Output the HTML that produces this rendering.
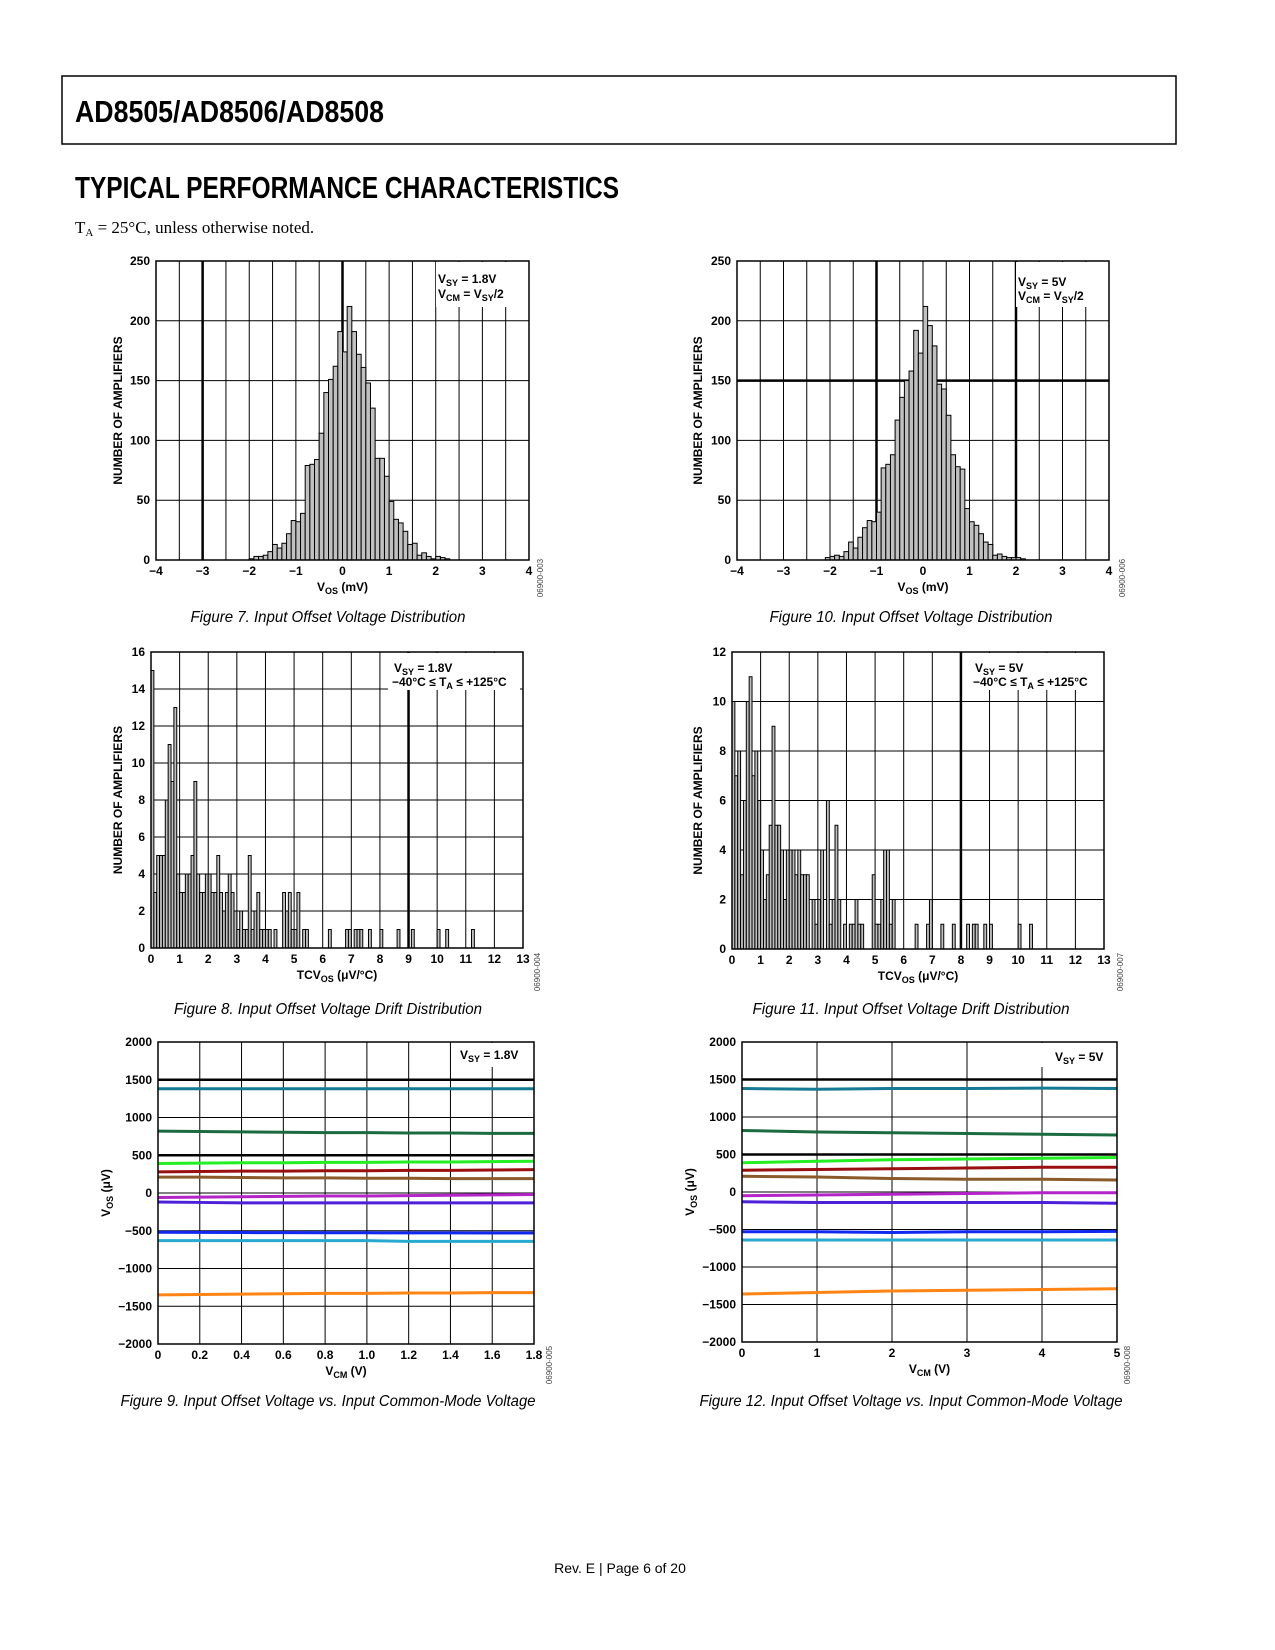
<!DOCTYPE html>
<html><head><meta charset="utf-8"><title>AD8505/AD8506/AD8508 Typical Performance Characteristics</title>
<style>
html,body{margin:0;padding:0;background:#fff;}
svg{display:block;}
.tk{font-family:"Liberation Sans",sans-serif;font-weight:bold;font-size:12px;fill:#000;}
.ax{font-family:"Liberation Sans",sans-serif;font-weight:bold;font-size:12px;fill:#000;}
.cap{font-family:"Liberation Sans Narrow","Liberation Sans",sans-serif;font-style:italic;font-size:16px;fill:#000;}
.code{font-family:"Liberation Sans",sans-serif;font-size:8px;fill:#444;}
</style></head>
<body>
<svg id="page" xmlns="http://www.w3.org/2000/svg" width="1275" height="1650" viewBox="0 0 1275 1650">
<rect x="0" y="0" width="1275" height="1650" fill="#fff"/>
<rect x="62" y="76" width="1114" height="68" fill="none" stroke="#000" stroke-width="1.5"/>
<text x="75" y="122" font-family="'Liberation Sans Narrow','Liberation Sans',sans-serif" font-weight="bold" font-size="31" textLength="309" lengthAdjust="spacingAndGlyphs">AD8505/AD8506/AD8508</text>
<text x="75" y="198" font-family="'Liberation Sans Narrow','Liberation Sans',sans-serif" font-weight="bold" font-size="31" textLength="544" lengthAdjust="spacingAndGlyphs">TYPICAL PERFORMANCE CHARACTERISTICS</text>
<text x="75" y="233" font-family="'Liberation Serif',serif" font-size="17">T<tspan font-size="11" dy="3">A</tspan><tspan dy="-3"> = 25°C, unless otherwise noted.</tspan></text>
<text x="620" y="1573" text-anchor="middle" font-family="'Liberation Sans',sans-serif" font-size="14">Rev. E | Page 6 of 20</text>
<g id="charts"></g>
</svg>
<script>
// ---------- Figure 7 data ----------
const f7Edges = [-2.0,-1.9,-1.8,-1.7,-1.6,-1.5,-1.4,-1.3,-1.2,-1.1,-1.0,-0.9,-0.8,-0.7,-0.6,-0.5,-0.4,-0.3,-0.2,-0.1,0.0,0.1,0.2,0.3,0.4,0.5,0.6,0.7,0.8,0.9,1.0,1.1,1.2,1.3,1.4,1.5,1.6,1.7,1.8,1.9,2.0,2.1,2.2];
const f7Counts = [1,3,3,4,7,13,10,14,22,33,32,39,79,80,84,106,140,151,162,191,174,212,191,172,161,148,127,85,85,70,49,34,31,24,13,14,4,6,3,1,3,2,1];
const f7XTicks = ["−4","−3","−2","−1","0","1","2","3","4"];
const f7YTicks = ["0","50","100","150","200","250"];
// ---------- Figure 10 data ----------
const f10Edges = [-2.1,-2.0,-1.9,-1.8,-1.7,-1.6,-1.5,-1.4,-1.3,-1.2,-1.1,-1.0,-0.9,-0.8,-0.7,-0.6,-0.5,-0.4,-0.3,-0.2,-0.1,0.0,0.1,0.2,0.3,0.4,0.5,0.6,0.7,0.8,0.9,1.0,1.1,1.2,1.3,1.4,1.5,1.6,1.7,1.8,1.9,2.0,2.1];
const f10Counts = [2,3,4,3,7,15,10,19,27,33,32,40,77,80,88,117,136,150,158,192,173,212,196,179,147,143,121,88,78,76,43,32,29,22,15,13,4,5,3,2,2,2,1];
const f10XTicks = ["−4","−3","−2","−1","0","1","2","3","4"];
const f10YTicks = ["0","50","100","150","200","250"];
// ---------- Figure 8 data ----------
const f8Edges = [0.0,0.1,0.2,0.3,0.4,0.5,0.6,0.7,0.8,0.9,1.0,1.1,1.2,1.3,1.4,1.5,1.6,1.7,1.8,1.9,2.0,2.1,2.2,2.3,2.4,2.5,2.6,2.7,2.8,2.9,3.0,3.1,3.2,3.3,3.4,3.5,3.6,3.7,3.8,3.9,4.0,4.1,4.3,4.6,4.7,4.8,4.9,5.0,5.1,5.3,5.4,6.2,6.8,6.9,7.1,7.2,7.3,7.6,8.0,8.6,9.1,10.0,10.3,11.2];
const f8Counts = [15,3,5,5,5,8,11,9,13,4,3,3,4,4,5,9,4,3,3,4,4,3,3,5,3,2,3,4,3,2,1,2,1,1,5,1,2,3,1,1,1,1,1,3,2,3,1,1,3,1,1,1,1,1,1,1,1,1,1,1,1,1,1,1];
const f8XTicks = ["0","1","2","3","4","5","6","7","8","9","10","11","12","13"];
const f8YTicks = ["0","2","4","6","8","10","12","14","16"];
// ---------- Figure 11 data ----------
const f11Edges = [0.0,0.1,0.2,0.3,0.4,0.5,0.6,0.7,0.8,0.9,1.0,1.1,1.2,1.3,1.4,1.5,1.6,1.7,1.8,1.9,2.0,2.1,2.2,2.3,2.4,2.5,2.6,2.8,2.9,3.0,3.1,3.3,3.4,3.5,3.6,3.7,3.9,4.1,4.2,4.3,4.4,4.5,4.9,5.0,5.1,5.2,5.3,5.4,5.5,5.6,6.4,6.8,6.9,7.3,7.7,8.2,8.4,8.5,8.8,9.0,10.0,10.4];
const f11Counts = [10,7,8,3,6,10,11,7,8,6,4,2,3,5,9,5,5,4,2,4,4,4,3,4,3,3,3,2,1,2,4,6,1,2,5,2,1,1,1,2,1,1,3,1,1,2,4,4,1,2,1,1,2,1,1,1,1,1,1,1,1,1];
const f11XTicks = ["0","1","2","3","4","5","6","7","8","9","10","11","12","13"];
const f11YTicks = ["0","2","4","6","8","10","12"];
// ---------- Figure 9 data ----------
const f9X = [0,0.2,0.4,0.6,0.8,1.0,1.2,1.4,1.6,1.8];
const f9Teal = [1380,1380,1380,1380,1380,1380,1380,1380,1380,1380];
const f9DarkGreen = [820,815,810,805,800,800,795,795,790,790];
const f9Green = [390,395,400,400,405,405,410,410,415,420];
const f9DarkRed = [280,285,290,290,295,295,300,300,305,310];
const f9Brown = [210,210,205,200,200,195,195,190,190,190];
const f9Magenta = [-60,-55,-50,-45,-40,-40,-35,-30,-25,-20];
const f9Purple = [-120,-125,-130,-130,-130,-130,-130,-130,-130,-130];
const f9Blue = [-520,-522,-524,-525,-526,-527,-528,-528,-529,-530];
const f9LightBlue = [-630,-630,-630,-630,-630,-630,-640,-640,-640,-640];
const f9Orange = [-1350,-1345,-1340,-1335,-1330,-1330,-1325,-1325,-1320,-1320];
const f9XTicks = ["0","0.2","0.4","0.6","0.8","1.0","1.2","1.4","1.6","1.8"];
const f9YTicks = ["−2000","−1500","−1000","−500","0","500","1000","1500","2000"];
// ---------- Figure 12 data ----------
const f12X = [0,1,2,3,4,5];
const f12Teal = [1380,1370,1380,1380,1385,1380];
const f12DarkGreen = [820,800,790,780,770,760];
const f12Green = [390,410,430,440,450,460];
const f12DarkRed = [290,300,310,320,330,330];
const f12Brown = [210,200,180,170,170,160];
const f12Magenta = [-50,-40,-30,-20,-10,-10];
const f12Purple = [-130,-140,-140,-140,-140,-150];
const f12Blue = [-530,-530,-540,-530,-530,-525];
const f12LightBlue = [-640,-640,-640,-640,-640,-640];
const f12Orange = [-1360,-1340,-1320,-1310,-1300,-1290];
const f12XTicks = ["0","1","2","3","4","5"];
const f12YTicks = ["−2000","−1500","−1000","−500","0","500","1000","1500","2000"];

const seriesColors = ["#177a94","#1b6b40","#22f022","#9a1010","#8b5a2b","#b424c8","#4c20d8","#1028f0","#28aad0","#ff8414"];

const NS = "http://www.w3.org/2000/svg";
const root = document.getElementById("charts");
function mk(tag, attrs, parent){
  const e = document.createElementNS(NS, tag);
  for (const k in attrs) e.setAttribute(k, attrs[k]);
  parent.appendChild(e);
  return e;
}
function scale(d0,d1,r0,r1){ return v => r0 + (v-d0)*(r1-r0)/(d1-d0); }

function frameAndGrid(g, c){
  const sx = scale(c.xmin,c.xmax,c.x0,c.x1), sy = scale(c.ymin,c.ymax,c.y1,c.y0);
  for (let v=c.xmin+c.xstep; v<c.xmax-1e-9; v+=c.xstep){
    const thick = c.thickX.some(t=>Math.abs(t-v)<1e-6);
    const l = mk("line",{x1:sx(v),x2:sx(v),y1:c.y0,y2:c.y1,stroke:"#000","stroke-width":thick?2.5:1},g);
    
    
  }
  for (let v=c.ymin+c.ystep; v<c.ymax-1e-9; v+=c.ystep){
    const thick = c.thickY.some(t=>Math.abs(t-v)<1e-6);
    const l = mk("line",{x1:c.x0,x2:c.x1,y1:sy(v),y2:sy(v),stroke:"#000","stroke-width":thick?2.5:1},g);
    
    
  }
  return {sx,sy};
}
function ticks(g, c, sx, sy){
  c.xTicks.forEach((t,i)=>{
    const v = c.xmin + i*c.xTickStep;
    const tx = mk("text",{x:sx(v),y:c.y1+15,"text-anchor":"middle",class:"tk"},g);
    tx.textContent = t;
    
    
  });
  c.yTicks.forEach((t,i)=>{
    const v = c.ymin + i*c.yTickStep;
    const ty = mk("text",{x:c.x0-6,y:sy(v)+4,"text-anchor":"end",class:"tk"},g);
    ty.textContent = t;
    
    
  });
}
function finish(g, c){
  const ann = mk("rect",{x:c.ann[0],y:c.ann[1],width:c.ann[2],height:c.ann[3],fill:"#fff"},g);
  
  
  const fr = mk("rect",{x:c.x0,y:c.y0,width:c.x1-c.x0,height:c.y1-c.y0,fill:"none",stroke:"#000","stroke-width":1.5},g);
  
  
  const txt = mk("g",{},g);
  
  
  txt.innerHTML = c.annText;
  const xt = mk("text",{x:(c.x0+c.x1)/2,y:c.y1+31,"text-anchor":"middle",class:"ax"},g);
  
  
  xt.innerHTML = c.xTitle;
  const yt = mk("text",{x:c.yTitleX,y:(c.y0+c.y1)/2,"text-anchor":"middle",class:"ax",transform:`rotate(-90 ${c.yTitleX} ${(c.y0+c.y1)/2})`},g);
  
  
  yt.innerHTML = c.yTitle;
  const cp = mk("text",{x:c.capX,y:c.capY,"text-anchor":"middle",class:"cap",textLength:c.capW,lengthAdjust:"spacingAndGlyphs"},g);
  
  
  cp.textContent = c.caption;
  const cd = mk("text",{x:c.codeX,y:c.codeY,"text-anchor":"middle",class:"code",transform:`rotate(-90 ${c.codeX} ${c.codeY})`},g);
  
  
  cd.textContent = c.code;
}
function histogram(c, edges, counts){
  const g = mk("g",{},root);
  
  
  const {sx,sy} = frameAndGrid(g,c);
  edges.forEach((e,i)=>{
    if (!counts[i]) return;
    const x = sx(e), w = sx(e+c.binW)-x, y = sy(counts[i]);
    const b = mk("rect",{x:x,y:y,width:w,height:sy(0)-y,fill:"#c0c0c0",stroke:"#000","stroke-width":1},g);
    
    
  });
  ticks(g,c,sx,sy);
  finish(g,c);
}
function lineChart(c, xs, series){
  const g = mk("g",{},root);
  
  
  const {sx,sy} = frameAndGrid(g,c);
  series.forEach((s,k)=>{
    const pts = xs.map((x,i)=>sx(x)+","+sy(s[i])).join(" ");
    const p = mk("polyline",{points:pts,fill:"none",stroke:seriesColors[k],"stroke-width":3,"stroke-linejoin":"round"},g);
    
    
  });
  ticks(g,c,sx,sy);
  finish(g,c);
}
const sub = (a,b,c2)=>`${a}<tspan dy="3" font-size="9">${b}</tspan><tspan dy="-3">${c2}</tspan>`;

histogram({name:"figure-7-vos-histogram-1v8",x0:156,x1:529,y0:261,y1:560,xmin:-4,xmax:4,ymin:0,ymax:250,xstep:0.5,ystep:50,thickX:[-3,0],thickY:[],
  xTicks:f7XTicks,xTickStep:1,yTicks:f7YTicks,yTickStep:50,binW:0.1,
  ann:[436,262,90,45],annText:`<text x="438" y="283" class="ax">${sub("V","SY"," = 1.8V")}</text><text x="438" y="298" class="ax">${sub("V","CM"," = V")}<tspan dy="3" font-size="9">SY</tspan><tspan dy="-3">/2</tspan></text>`,
  xTitle:sub("V","OS"," (mV)"),yTitle:"NUMBER OF AMPLIFIERS",yTitleX:122,caption:"Figure 7. Input Offset Voltage Distribution",capX:328,capY:622,capW:275,codeX:543,codeY:578,code:"06900-003"},f7Edges,f7Counts);

histogram({name:"figure-10-vos-histogram-5v",x0:737,x1:1109,y0:261,y1:560,xmin:-4,xmax:4,ymin:0,ymax:250,xstep:0.5,ystep:50,thickX:[-1,2],thickY:[150],
  xTicks:f10XTicks,xTickStep:1,yTicks:f10YTicks,yTickStep:50,binW:0.1,
  ann:[1016,262,90,45],annText:`<text x="1018" y="286" class="ax">${sub("V","SY"," = 5V")}</text><text x="1018" y="300" class="ax">${sub("V","CM"," = V")}<tspan dy="3" font-size="9">SY</tspan><tspan dy="-3">/2</tspan></text>`,
  xTitle:sub("V","OS"," (mV)"),yTitle:"NUMBER OF AMPLIFIERS",yTitleX:702,caption:"Figure 10. Input Offset Voltage Distribution",capX:911,capY:622,capW:283,codeX:1125,codeY:578,code:"06900-006"},f10Edges,f10Counts);

histogram({name:"figure-8-tcvos-histogram-1v8",x0:151,x1:523,y0:652,y1:948,xmin:0,xmax:13,ymin:0,ymax:16,xstep:1,ystep:2,thickX:[9],thickY:[],
  xTicks:f8XTicks,xTickStep:1,yTicks:f8YTicks,yTickStep:2,binW:0.1,
  ann:[388,653,132,37],annText:`<text x="394" y="672" class="ax">${sub("V","SY"," = 1.8V")}</text><text x="392" y="686" class="ax">−40°C ≤ T<tspan dy="3" font-size="9">A</tspan><tspan dy="-3"> ≤ +125°C</tspan></text>`,
  xTitle:`TCV<tspan dy="3" font-size="9">OS</tspan><tspan dy="-3"> (μV/°C)</tspan>`,yTitle:"NUMBER OF AMPLIFIERS",yTitleX:122,caption:"Figure 8. Input Offset Voltage Drift Distribution",capX:328,capY:1014,capW:308,codeX:540,codeY:972,code:"06900-004"},f8Edges,f8Counts);

histogram({name:"figure-11-tcvos-histogram-5v",x0:732,x1:1104,y0:652,y1:949,xmin:0,xmax:13,ymin:0,ymax:12,xstep:1,ystep:2,thickX:[8],thickY:[],
  xTicks:f11XTicks,xTickStep:1,yTicks:f11YTicks,yTickStep:2,binW:0.1,
  ann:[966,653,134,37],annText:`<text x="975" y="672" class="ax">${sub("V","SY"," = 5V")}</text><text x="973" y="686" class="ax">−40°C ≤ T<tspan dy="3" font-size="9">A</tspan><tspan dy="-3"> ≤ +125°C</tspan></text>`,
  xTitle:`TCV<tspan dy="3" font-size="9">OS</tspan><tspan dy="-3"> (μV/°C)</tspan>`,yTitle:"NUMBER OF AMPLIFIERS",yTitleX:702,caption:"Figure 11. Input Offset Voltage Drift Distribution",capX:911,capY:1014,capW:317,codeX:1123,codeY:972,code:"06900-007"},f11Edges,f11Counts);

lineChart({name:"figure-9-vos-vs-vcm-1v8",x0:158,x1:534,y0:1042,y1:1344,xmin:0,xmax:1.8,ymin:-2000,ymax:2000,xstep:0.2,ystep:500,thickX:[],thickY:[1500,500],
  xTicks:f9XTicks,xTickStep:0.2,yTicks:f9YTicks,yTickStep:500,
  ann:[453,1043,78,24],annText:`<text x="460" y="1059" class="ax">${sub("V","SY"," = 1.8V")}</text>`,
  xTitle:sub("V","CM"," (V)"),yTitle:`V<tspan dy="3" font-size="9">OS</tspan><tspan dy="-3"> (μV)</tspan>`,yTitleX:110,caption:"Figure 9. Input Offset Voltage vs. Input Common-Mode Voltage",capX:328,capY:1406,capW:415,codeX:552,codeY:1365,code:"06900-005"},
  f9X,[f9Teal,f9DarkGreen,f9Green,f9DarkRed,f9Brown,f9Magenta,f9Purple,f9Blue,f9LightBlue,f9Orange]);

lineChart({name:"figure-12-vos-vs-vcm-5v",x0:742,x1:1117,y0:1042,y1:1342,xmin:0,xmax:5,ymin:-2000,ymax:2000,xstep:1,ystep:500,thickX:[],thickY:[1500,500],
  xTicks:f12XTicks,xTickStep:1,yTicks:f12YTicks,yTickStep:500,
  ann:[1040,1043,74,24],annText:`<text x="1055" y="1061" class="ax">${sub("V","SY"," = 5V")}</text>`,
  xTitle:sub("V","CM"," (V)"),yTitle:`V<tspan dy="3" font-size="9">OS</tspan><tspan dy="-3"> (μV)</tspan>`,yTitleX:694,caption:"Figure 12. Input Offset Voltage vs. Input Common-Mode Voltage",capX:911,capY:1406,capW:423,codeX:1130,codeY:1365,code:"06900-008"},
  f12X,[f12Teal,f12DarkGreen,f12Green,f12DarkRed,f12Brown,f12Magenta,f12Purple,f12Blue,f12LightBlue,f12Orange]);
</script>
</body></html>
